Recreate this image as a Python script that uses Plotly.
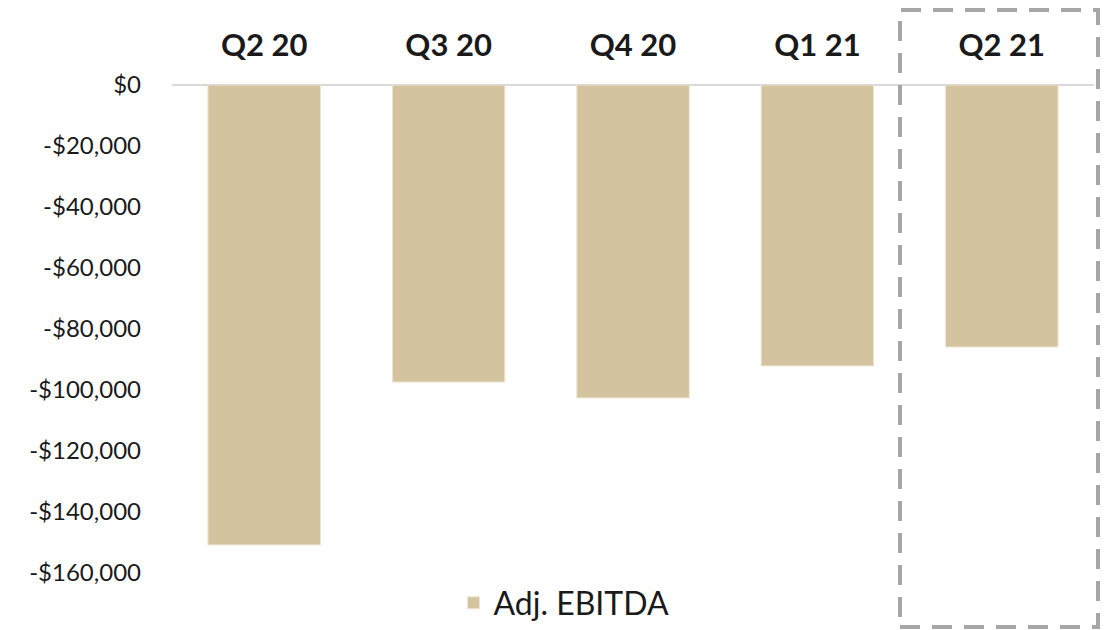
import plotly.graph_objects as go

# Quarterly adjusted EBITDA
quarters = ["Q2 20", "Q3 20", "Q4 20", "Q1 21", "Q2 21"]
adj_ebitda = [-150800, -97400, -102600, -92100, -85900]

tick_values = [0, -20000, -40000, -60000, -80000, -100000, -120000, -140000, -160000]
tick_labels = ["$0" if v == 0 else "-${:,}".format(-v) for v in tick_values]

W, H = 1104, 630
ML, MR, MT, MB = 172, 10, 85, 57
plot_w = W - ML - MR
plot_h = H - MT - MB


def px_x(px):
    return (px - ML) / plot_w


def px_y(py):
    return (H - MB - py) / plot_h


fig = go.Figure()
fig.add_trace(go.Bar(
    x=quarters,
    y=adj_ebitda,
    name="Adj. EBITDA",
    marker=dict(color="#D3C39F", line=dict(color="#EFE6D2", width=1)),
))

# dashed frame highlighting the latest quarter
fig.add_shape(
    type="rect", xref="paper", yref="paper",
    x0=px_x(900), x1=px_x(1098), y0=px_y(627), y1=px_y(10),
    line=dict(color="#A6A6A6", width=4, dash="20px,12px"),
    fillcolor="rgba(0,0,0,0)",
)

fig.update_layout(
    width=W, height=H,
    margin=dict(l=ML, r=MR, t=MT, b=MB, pad=0, autoexpand=False),
    paper_bgcolor="white", plot_bgcolor="white",
    bargap=0.39,
    font=dict(family="Lato, 'Open Sans', sans-serif", color="#1a1a1a"),
    showlegend=True,
    legend=dict(
        orientation="h", x=px_x(564), xanchor="center", y=px_y(603), yanchor="middle",
        font=dict(size=32, color="#1a1a1a"), bgcolor="rgba(0,0,0,0)",
    ),
    xaxis=dict(
        side="top", showgrid=False, showline=False, zeroline=False,
        tickfont=dict(size=31, color="#1a1a1a", family="Lato, sans-serif", weight="bold"),
        ticks="", ticklabelstandoff=22,
    ),
    yaxis=dict(
        range=[-160000, 0], tickvals=tick_values, ticktext=tick_labels,
        showgrid=False, zeroline=True, zerolinecolor="#D9D9D9", zerolinewidth=2,
        showline=False, ticks="",
        tickfont=dict(size=24, color="#1a1a1a"), ticklabelstandoff=30,
    ),
)

fig.write_html("out.html")
